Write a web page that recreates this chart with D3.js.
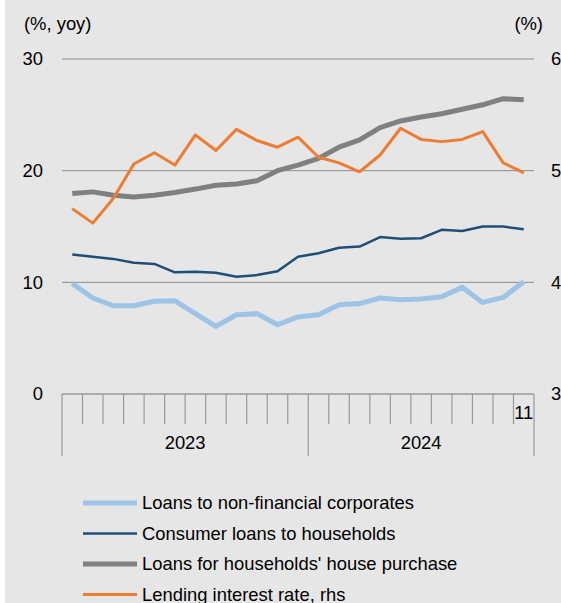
<!DOCTYPE html>
<html>
<head>
<meta charset="utf-8">
<script src="https://cdn.jsdelivr.net/npm/d3@7"></script>
<style>
  html, body { margin: 0; padding: 0; background: #fff; }
  svg { display: block; font-family: "Liberation Sans", Arial, sans-serif; }
</style>
</head>
<body>
<svg id="chart" width="561" height="603"></svg>
<script>
// monthly data, Jan 2023 - Nov 2024
var months = d3.range(23).map(function(i) { return new Date(2023, i, 1); });

var loansNFC = [9.9, 8.6, 7.9, 7.9, 8.3, 8.35, 7.2, 6.05, 7.1, 7.2, 6.2, 6.9, 7.1, 8.0, 8.1, 8.6, 8.45, 8.5, 8.7, 9.55, 8.2, 8.65, 10.05];
var consumerLoans = [12.5, 12.3, 12.1, 11.75, 11.65, 10.9, 10.95, 10.85, 10.5, 10.65, 11.0, 12.3, 12.6, 13.1, 13.2, 14.05, 13.9, 13.95, 14.7, 14.6, 15.0, 15.0, 14.75];
var housePurchase = [17.95, 18.1, 17.8, 17.65, 17.8, 18.05, 18.35, 18.7, 18.8, 19.1, 20.0, 20.5, 21.1, 22.1, 22.75, 23.85, 24.45, 24.8, 25.1, 25.5, 25.9, 26.45, 26.35];
var lendingRate = [4.66, 4.53, 4.75, 5.06, 5.16, 5.05, 5.32, 5.18, 5.37, 5.27, 5.21, 5.30, 5.12, 5.07, 4.99, 5.14, 5.38, 5.28, 5.26, 5.28, 5.35, 5.07, 4.98];

var leftTicks = [0, 10, 20, 30];
var rightTicks = [3, 4, 5, 6];
var years = ["2023", "2024"];

var series = [
    {name: "Loans to non-financial corporates", values: loansNFC, color: "#9dc3e6", width: 5, axis: "left"},
    {name: "Consumer loans to households", values: consumerLoans, color: "#1f4e79", width: 2.5, axis: "left"},
    {name: "Loans for households' house purchase", values: housePurchase, color: "#808080", width: 5, axis: "left"},
    {name: "Lending interest rate, rhs", values: lendingRate, color: "#ed7d31", width: 3, axis: "right"}
];

var fontSize = 18.4;
var svg = d3.select("#chart");

// fond gris
svg.append("rect")
    .attr("x", 5).attr("y", 0)
    .attr("width", 556).attr("height", 603)
    .attr("fill", "#e6e6e6");

var margin = {left: 62, right: 534, top: 59, bottom: 394};

var x = d3.scaleBand()
    .domain(d3.range(months.length))
    .range([margin.left, margin.right]);

var y = d3.scaleLinear().domain([0, 30]).range([margin.bottom, margin.top]);
var y2 = d3.scaleLinear().domain([3, 6]).range([margin.bottom, margin.top]);

// gridlines
svg.append("g")
    .selectAll("line")
    .data(leftTicks.slice(1))
    .enter().append("line")
    .attr("x1", margin.left).attr("x2", margin.right)
    .attr("y1", function(d) { return y(d); })
    .attr("y2", function(d) { return y(d); })
    .attr("stroke", "#8c8c8c")
    .attr("stroke-width", 1);

// left axis labels
svg.append("g")
    .selectAll("text")
    .data(leftTicks)
    .enter().append("text")
    .attr("x", 43)
    .attr("y", function(d) { return y(d); })
    .attr("dy", "0.35em")
    .attr("text-anchor", "end")
    .attr("font-size", fontSize)
    .text(function(d) { return d; });

// right axis labels
svg.append("g")
    .selectAll("text")
    .data(rightTicks)
    .enter().append("text")
    .attr("x", 551)
    .attr("y", function(d) { return y2(d); })
    .attr("dy", "0.35em")
    .attr("font-size", fontSize)
    .text(function(d) { return d; });

svg.append("text")
    .attr("x", 24).attr("y", 24)
    .attr("dy", "0.35em")
    .attr("font-size", fontSize)
    .text("(%, yoy)");

svg.append("text")
    .attr("x", 543).attr("y", 24)
    .attr("dy", "0.35em")
    .attr("text-anchor", "end")
    .attr("font-size", fontSize)
    .text("(%)");

// x axis
var axisG = svg.append("g");
axisG.append("line")
    .attr("x1", margin.left).attr("x2", margin.right)
    .attr("y1", margin.bottom).attr("y2", margin.bottom)
    .attr("stroke", "#999").attr("stroke-width", 1.5);

var boundaries = d3.range(months.length + 1);
axisG.selectAll("line.tick")
    .data(boundaries)
    .enter().append("line")
    .attr("class", "tick")
    .attr("x1", function(i) { return margin.left + i * x.step(); })
    .attr("x2", function(i) { return margin.left + i * x.step(); })
    .attr("y1", margin.bottom)
    .attr("y2", function(i) { return (i % 12 === 0 || i === months.length) ? 456 : 424; })
    .attr("stroke", "#999").attr("stroke-width", 1.2);

axisG.selectAll("text.year")
    .data(years)
    .enter().append("text")
    .attr("class", "year")
    .attr("x", function(d, i) {
        var a = i * 12, b = Math.min((i + 1) * 12, months.length);
        return margin.left + (a + b) / 2 * x.step();
    })
    .attr("y", 443)
    .attr("dy", "0.35em")
    .attr("text-anchor", "middle")
    .attr("font-size", fontSize)
    .text(function(d) { return d; });

axisG.append("text")
    .attr("x", x(months.length - 1) + x.bandwidth() / 2)
    .attr("y", 413)
    .attr("dy", "0.35em")
    .attr("text-anchor", "middle")
    .attr("font-size", fontSize)
    .text(months[months.length - 1].getMonth() + 1);

// lines
series.forEach(function(s) {
    var sc = s.axis === "left" ? y : y2;
    var line = d3.line()
        .x(function(d, i) { return x(i) + x.bandwidth() / 2; })
        .y(function(d) { return sc(d); });
    svg.append("path")
        .datum(s.values)
        .attr("d", line)
        .attr("fill", "none")
        .attr("stroke", s.color)
        .attr("stroke-width", s.width)
        .attr("stroke-linejoin", "round");
});

// legend
var legend = svg.append("g")
    .selectAll("g")
    .data(series)
    .enter().append("g")
    .attr("transform", function(d, i) { return "translate(83," + (503 + i * 30.5) + ")"; });

legend.append("line")
    .attr("x1", 0).attr("x2", 54)
    .attr("stroke", function(d) { return d.color; })
    .attr("stroke-width", function(d) { return d.width; });

legend.append("text")
    .attr("x", 59)
    .attr("dy", "0.35em")
    .attr("font-size", fontSize)
    .text(function(d) { return d.name; });
</script>
</body>
</html>
